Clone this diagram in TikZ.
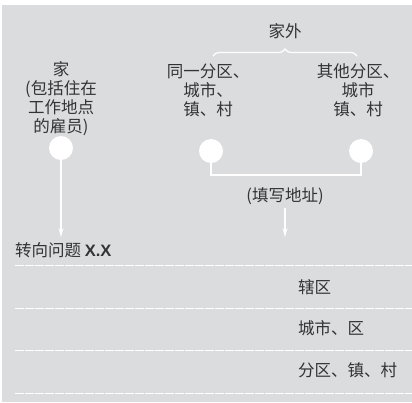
\documentclass[tikz,border=0pt]{standalone}
\usepackage{fontspec}
\newfontfamily\cjk{Noto Sans CJK SC}
\newfontfamily\latinsans{Liberation Sans}
\usetikzlibrary{arrows.meta,decorations.pathreplacing}
\definecolor{panel}{HTML}{DBDCDE}
\definecolor{ink}{HTML}{333333}
\begin{document}
\begin{tikzpicture}[x=1pt,y=-1pt,
    every node/.style={text=ink, font=\cjk\fontsize{16.5}{19}\selectfont, inner sep=0pt},
    dot/.style={circle, fill=white, minimum size=24pt},
    link/.style={white, line width=1.3pt},
    arr/.style={white, line width=1.3pt, -{Stealth[length=9pt,width=5pt]}},
    rule/.style={white, line width=1pt, dash pattern=on 9pt off 1pt}]
    \useasboundingbox (0,0) rectangle (412,402);
    \fill[white] (0,0) rectangle (412,402);
    \fill[panel] (2,5) rectangle (412,402);

    % header over the two outside choices
    \node (outside) at (285,31) {家外};
    \draw[white, line width=1.2pt, decorate, decoration={brace, amplitude=7pt}] (213,56) -- (357,56);

    % column labels
    \node (homelbl) at (61,99) [align=center] {家\\(包括住在\\工作地点\\的雇员)};
    \node (samelbl) at (208,90) [align=center] {同一分区、\\城市、\\镇、村};
    \node (otherlbl) at (358,90) [align=center] {其他分区、\\城市\\镇、村};

    % tick boxes
    \coordinate (join) at (285,175);
    \coordinate (hometip) at (61,237);
    \coordinate (addrtip) at (285,237);
    \draw[link] (211,151) |- (join) -| (361,151);
    \node (home) at (61,148) [dot] {};
    \node (same) at (211,151) [dot] {};
    \node (other) at (361,151) [dot] {};

    % address part
    \node (addr) at (285,196) {(填写地址)};
    \draw[arr] (home) -- (hometip);
    \draw[arr] (addr.south |- 0,208) -- (addrtip);

    \node (skip) at (15,250) [anchor=west] {转向问题 {\latinsans\bfseries X.X}};

    % answer lines
    \foreach \y in {265,308,350,393}
        \draw[rule] (15,\y) -- (412,\y);
    \node (county) at (298,287) [anchor=west] {辖区};
    \node (city) at (298,328) [anchor=west] {城市、区};
    \node (town) at (298,370) [anchor=west] {分区、镇、村};
\end{tikzpicture}
\end{document}
